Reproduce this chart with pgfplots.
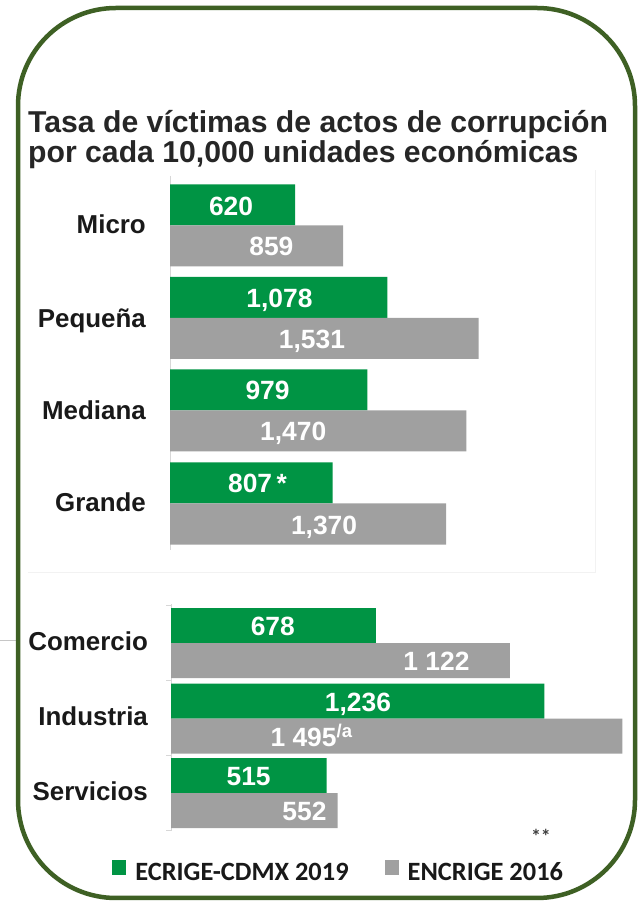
\documentclass[border=0pt]{standalone}
\usepackage{fontspec}
\setmainfont{Liberation Sans}
\newfontfamily\carlito{Carlito}
\usepackage{pgfplots}
\pgfplotsset{compat=1.18}
\definecolor{barGreen}{RGB}{0,148,68}
\definecolor{barGrey}{RGB}{160,160,160}
\definecolor{frameGreen}{RGB}{62,96,36}
\definecolor{titleGrey}{RGB}{38,38,38}
\definecolor{axisGrey}{RGB}{215,215,215}
\tikzset{
  val/.style={text=white, font=\bfseries\fontsize{26.5}{30}\selectfont, inner sep=0pt, text height=19bp, text depth=0pt},
  cat/.style={text=black!90, font=\bfseries\fontsize{26}{30}\selectfont, inner sep=0pt, text height=18.6bp, text depth=0pt, anchor=east},
}
\begin{document}
\begin{tikzpicture}
\path[use as bounding box, fill=white] (0bp,0bp) rectangle (641bp,902bp);
% faint artefact lines
\draw[gray!10, line width=0.8bp] (28bp,330bp) -- (595bp,330bp) -- (595bp,732bp);
\draw[gray!45, line width=0.8bp] (0bp,262bp) -- (16bp,262bp);
% frame
\draw[frameGreen, line width=4.5bp, rounded corners=98bp] (18bp,4bp) rectangle (635bp,894bp);
% title
\node[anchor=base west, inner sep=0pt, font=\bfseries\fontsize{30.3}{33}\selectfont, text=titleGrey] at (28bp,769bp) {Tasa de víctimas de actos de corrupción};
\node[anchor=base west, inner sep=0pt, font=\bfseries\fontsize{30.3}{33}\selectfont, text=titleGrey] at (28bp,739bp) {por cada 10,000 unidades económicas};

% ---------- top axis: by size ----------
\begin{axis}[
  at={(170bp,352bp)}, anchor=south west,
  scale only axis, width=425bp, height=374bp,
  xmin=0, xmax=2108, ymin=176, ymax=550, y dir=reverse,
  xbar, bar shift=0pt, bar width=41,
  axis x line=none, axis y line*=left,
  y axis line style={axisGrey, line width=0.9bp},
  ytick=\empty, xtick=\empty,
  clip=false,
]
\addplot[fill=barGreen, draw=none] coordinates {(620,205) (1078,297.5) (979,390) (807,483)};
\addplot[fill=barGrey, draw=none] coordinates {(859,246) (1531,338.5) (1470,431) (1370,524)};
\node[val] at (axis cs:303,206) {620};
\node[val] at (axis cs:503,246.5) {859};
\node[val] at (axis cs:543,298) {1,078};
\node[val] at (axis cs:704,339) {1,531};
\node[val] at (axis cs:484,390.5) {979};
\node[val] at (axis cs:611,431.5) {1,470};
\node[val] at (axis cs:434,483.5) {807\,*};
\node[val] at (axis cs:764,524.5) {1,370};
\node[cat] at (axis cs:-119,224.5) {Micro};
\node[cat] at (axis cs:-119,318) {Pequeña};
\node[cat] at (axis cs:-119,410) {Mediana};
\node[cat] at (axis cs:-119,502.5) {Grande};
\end{axis}

% ---------- bottom axis: by sector ----------
\begin{axis}[
  at={(171bp,71bp)}, anchor=south west,
  scale only axis, width=453bp, height=227bp,
  xmin=0, xmax=1500, ymin=604, ymax=831, y dir=reverse,
  xbar, bar shift=0pt, bar width=35,
  axis x line=none, axis y line*=left,
  y axis line style={axisGrey, line width=0.9bp},
  ytick={605.5,680.5,755.5,830.5}, yticklabels={}, xtick=\empty,
  tick align=outside, major tick length=5bp,
  ytick style={axisGrey, line width=0.9bp},
  clip=false,
  legend columns=2,
  legend cell align=left,
  legend style={at={(-0.130,-0.163)}, anchor=west, draw=none, fill=none, inner sep=0pt,
    font=\carlito\bfseries\fontsize{26.5}{30}\selectfont, text=black!90,
    nodes={inner sep=0pt, text height=16bp, text depth=0pt},
    /tikz/every even column/.append style={column sep=36bp}},
  legend image code/.code={\fill[#1] (0bp,-3bp) rectangle (14bp,12bp); \path (23bp,0bp) (0bp,16bp);},
]
\addplot[fill=barGreen, draw=none] coordinates {(678,625.5) (1236,701) (515,775.5)};
\addlegendentry{ECRIGE-CDMX 2019}
\addplot[fill=barGrey, draw=none] coordinates {(1122,660.5) (1495,736) (552,810.5)};
\addlegendentry{ENCRIGE 2016}
\node[val] at (axis cs:337,626) {678};
\node[val] at (axis cs:879,661) {1 122};
\node[val] at (axis cs:619,701.5) {1,236};
\node[val, anchor=west] at (axis cs:329,736.5) {1 495\textsuperscript{/a}};
\node[val] at (axis cs:257,776) {515};
\node[val] at (axis cs:442,811) {552};
\node[cat] at (axis cs:-76,641) {Comercio};
\node[cat] at (axis cs:-76,716) {Industria};
\node[cat] at (axis cs:-76,791) {Servicios};
\node[inner sep=0pt, font=\carlito\bfseries\fontsize{20}{22}\selectfont, text=black!75] at (axis cs:1225,836) {**};
\end{axis}
\end{tikzpicture}
\end{document}
